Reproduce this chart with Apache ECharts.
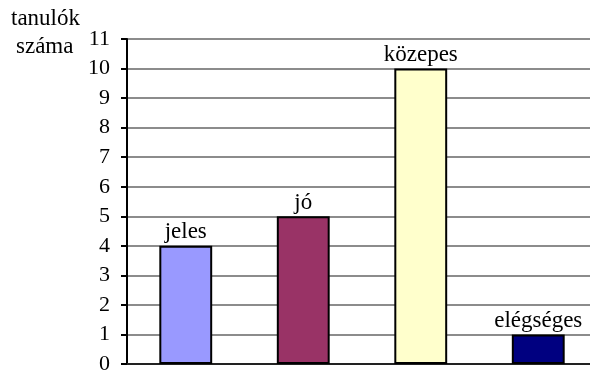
<!DOCTYPE html>
<html>
<head>
<meta charset="utf-8">
<script src="https://cdn.jsdelivr.net/npm/echarts@6/dist/echarts.min.js"></script>
<style>
  html, body { margin: 0; padding: 0; background: #fff; }
  #chart { width: 590px; height: 374px; }
</style>
</head>
<body>
<div id="chart"></div>
<script>
// Grade categories and the number of students in each
const categories = ['jeles', 'jó', 'közepes', 'elégséges'];
const studentCounts = [4, 5, 10, 1];
const barColors = ['#9999FF', '#993366', '#FFFFCC', '#000080'];
const yTicks = [0, 11, 1]; // min, max, step
const axisTitle = ['tanulók', 'száma'];

const FONT = 'Liberation Serif';
const chart = echarts.init(document.getElementById('chart'), null, { renderer: 'canvas' });

chart.setOption({
  animation: false,
  backgroundColor: '#ffffff',
  textStyle: { fontFamily: FONT },
  // plot area runs a little past the right edge of the canvas
  grid: { left: 127, width: 470, top: 39, bottom: 10, containLabel: false, outerBoundsMode: 'none' },
  graphic: [
    { type: 'text', left: 11, top: 7, style: { text: axisTitle[0], font: '23px "Liberation Serif"', fill: '#000' } },
    { type: 'text', left: 16, top: 35, style: { text: axisTitle[1], font: '23px "Liberation Serif"', fill: '#000' } }
  ],
  xAxis: {
    type: 'category',
    data: categories,
    axisLine: { show: true, lineStyle: { color: '#222', width: 2 } },
    axisTick: { show: false },
    axisLabel: { show: false },
    splitLine: { show: false }
  },
  yAxis: {
    type: 'value',
    min: yTicks[0],
    max: yTicks[1],
    interval: yTicks[2],
    axisLine: { show: true, lineStyle: { color: '#000', width: 2 } },
    axisTick: { show: true, length: 6, lineStyle: { color: '#000', width: 2 } },
    axisLabel: { margin: 17, color: '#000', fontFamily: FONT, fontSize: 22 },
    splitLine: { show: true, lineStyle: { color: '#8c8c8c', width: 2 } }
  },
  series: [{
    type: 'bar',
    barWidth: '45%',
    data: studentCounts.map((v, i) => ({
      value: v,
      itemStyle: { color: barColors[i] }
    })),
    itemStyle: { borderColor: '#000', borderWidth: 2 },
    label: {
      show: true,
      position: 'top',
      distance: 2,
      formatter: '{b}',
      color: '#000',
      fontFamily: FONT,
      fontSize: 23
    }
  }]
});
</script>
</body>
</html>
